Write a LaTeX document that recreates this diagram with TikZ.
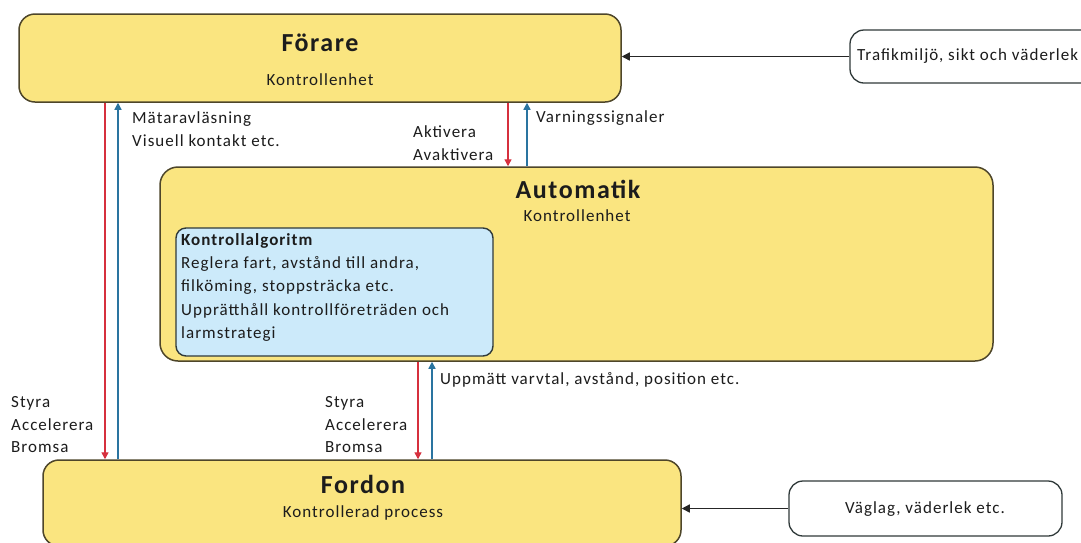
\documentclass[tikz,border=0pt]{standalone}
\usepackage{fontspec}
\setmainfont{Carlito}[LetterSpace=6]
\usetikzlibrary{arrows.meta}
\definecolor{boxyellow}{RGB}{250,229,128}
\definecolor{boxedge}{RGB}{78,70,42}
\definecolor{algoblue}{RGB}{204,234,250}
\definecolor{algoedge}{RGB}{48,58,58}
\definecolor{ctrlred}{RGB}{214,48,62}
\definecolor{feedblue}{RGB}{42,116,160}
\definecolor{ink}{RGB}{28,28,28}
\tikzset{
  unitbox/.style={draw=boxedge, line width=1.5pt, fill=boxyellow, rounded corners=16pt, inner sep=0pt},
  algobox/.style={draw=algoedge, line width=1.4pt, fill=algoblue, rounded corners=10pt, inner sep=0pt},
  envbox/.style={draw=algoedge, line width=1.3pt, fill=white, rounded corners=14pt, inner sep=0pt},
  title/.style={font=\fontsize{26}{30}\selectfont\bfseries, text=ink, inner sep=0pt},
  body/.style={font=\fontsize{17}{22.5}\selectfont, text=ink, inner sep=0pt, align=left},
  algotext/.style={font=\fontsize{17}{23.3}\selectfont, text=ink, inner sep=0pt, align=left},
  downarr/.style={draw=ctrlred, line width=1.4pt, -{Triangle[width=7pt,length=7pt]}},
  uparr/.style={draw=feedblue, line width=1.4pt, -{Triangle[width=7pt,length=7pt]}},
  envarr/.style={draw=black!85, line width=1.4pt, -{Triangle[width=8pt,length=8pt]}}
}
\begin{document}
\begin{tikzpicture}[x=1pt, y=-1pt]
\useasboundingbox (0,0) rectangle (1081,542);
\clip (0,0) rectangle (1081,542);
\fill[white] (0,0) rectangle (1081,542);

% main blocks
\node[unitbox, minimum width=602pt, minimum height=88pt] (forare) at (320,58) {};
\node[unitbox, rounded corners=18pt, minimum width=833pt, minimum height=194pt] (auto) at (576.5,264) {};
\node[algobox, minimum width=317pt, minimum height=128pt] (algo) at (334.5,292) {};
\node[unitbox, minimum width=638pt, minimum height=86pt] (fordon) at (362,503) {};

% environment inputs
\node[envbox, minimum width=250pt, minimum height=53pt] (trafik) at (975,56.5) {};
\node[envbox, minimum width=273pt, minimum height=55pt] (vaglag) at (925.5,508.5) {};

% block texts
\node[title] (forareT) at (320,43) {Förare};
\node[body] (forareS) at (320,80) {Kontrollenhet};
\node[title] (autoT) at (578,189) {Automatik};
\node[body] (autoS) at (577,216) {Kontrollenhet};
\node[title] (fordonT) at (363,484) {Fordon};
\node[body] (fordonS) at (363,513) {Kontrollerad process};
\node[algotext, anchor=north west] (algoT) at (181,233)
  {\textbf{Kontrollalgoritm}\\Reglera fart, avstånd till andra,\\filköming, stoppsträcka etc.\\Upprätthåll kontrollföreträden och\\larmstrategi};
\node[body, anchor=west] (trafikT) at (857,56) {Trafikmiljö, sikt och väderlek};
\node[body] (vaglagT) at (925,509) {Väglag, väderlek etc.};

% connector columns
\coordinate (c1) at (105,0);
\coordinate (c2) at (118,0);
\coordinate (c3) at (508,0);
\coordinate (c4) at (527,0);
\coordinate (c5) at (418,0);
\coordinate (c6) at (432,0);

% driver <-> vehicle
\draw[downarr] (forare.south -| c1) -- (fordon.north -| c1);
\draw[uparr] (fordon.north -| c2) -- (forare.south -| c2);
% driver <-> automation
\draw[downarr] (forare.south -| c3) -- (auto.north -| c3);
\draw[uparr] (auto.north -| c4) -- (forare.south -| c4);
% automation <-> vehicle
\draw[downarr] (auto.south -| c5) -- (fordon.north -| c5);
\draw[uparr] (fordon.north -| c6) -- (auto.south -| c6);
% environment
\draw[envarr] (trafik.west) -- (trafik.west -| forare.east);
\draw[envarr] (vaglag.west) -- (vaglag.west -| fordon.east);

% connector labels
\node[body, anchor=west] (lblMat) at (132,129) {Mätaravläsning\\Visuell kontakt etc.};
\node[body, anchor=west] (lblAkt) at (413,143) {Aktivera\\Avaktivera};
\node[body, anchor=west] (lblVarn) at (536,118) {Varningssignaler};
\node[body, anchor=west] (lblUpp) at (440,380) {Uppmätt varvtal, avstånd, position etc.};
\node[body, anchor=west] (lblStyr1) at (11,425) {Styra\\Accelerera\\Bromsa};
\node[body, anchor=west] (lblStyr2) at (325,425) {Styra\\Accelerera\\Bromsa};
\end{tikzpicture}
\end{document}
